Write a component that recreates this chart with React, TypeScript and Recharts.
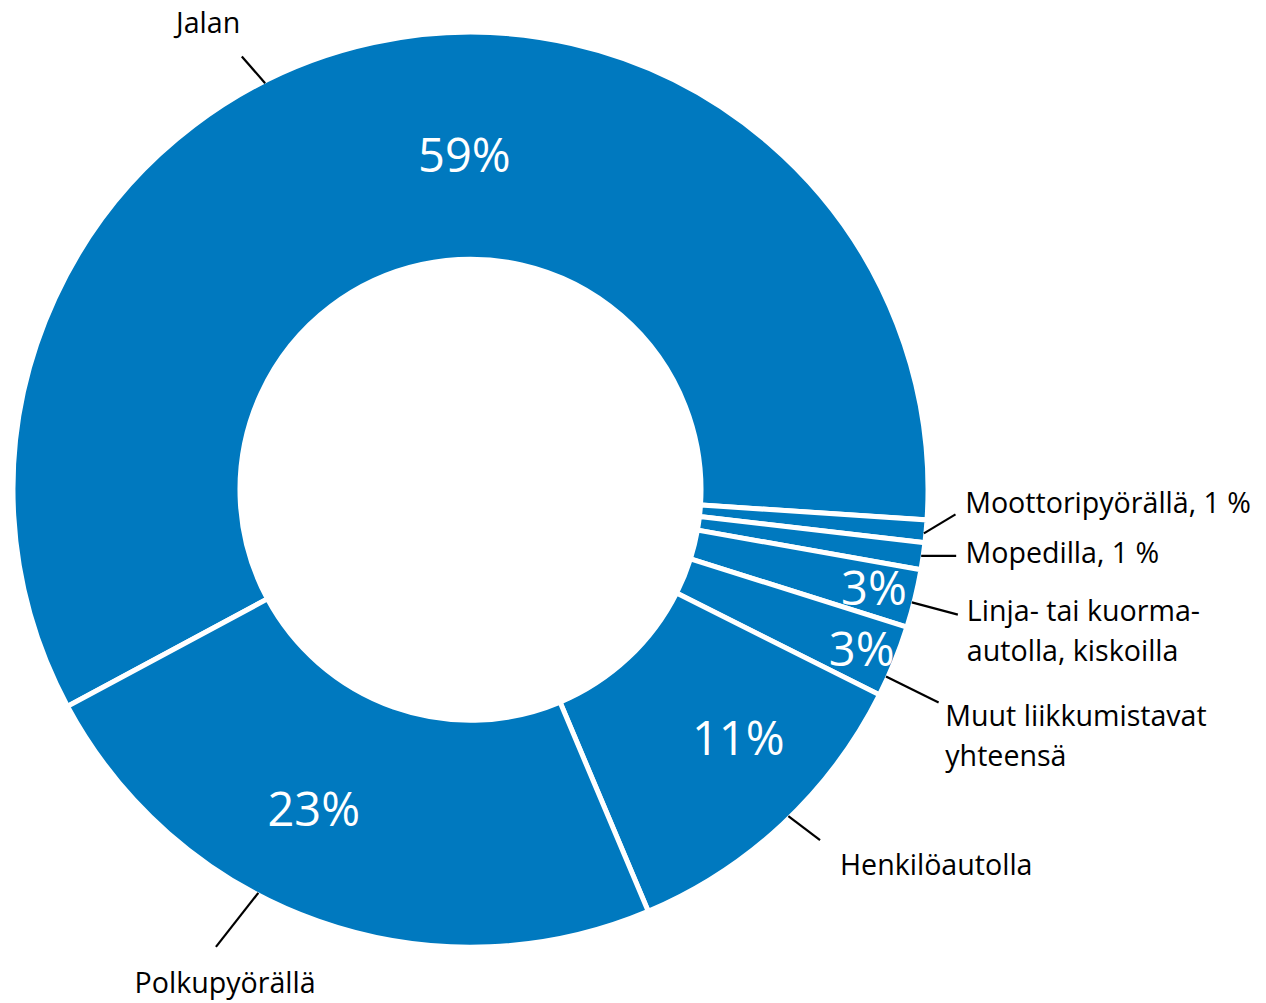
import React from "react";
import { PieChart, Pie, Cell } from "recharts";

const categories = [
  "Jalan",
  "Moottoripyörällä",
  "Mopedilla",
  "Linja- tai kuorma-autolla, kiskoilla",
  "Muut liikkumistavat yhteensä",
  "Henkilöautolla",
  "Polkupyörällä",
];
const shares = [58.9, 0.8, 0.95, 2.05, 2.55, 11.25, 23.5];
const pctLabels = ["59%", "", "", "3%", "3%", "11%", "23%"];
const outerLabelLines = [
  ["Jalan"],
  ["Moottoripyörällä, 1 %"],
  ["Mopedilla, 1 %"],
  ["Linja- tai kuorma-", "autolla, kiskoilla"],
  ["Muut liikkumistavat", "yhteensä"],
  ["Henkilöautolla"],
  ["Polkupyörällä"],
];

const data = categories.map((name, i) => ({ name, value: shares[i] }));

// Layout tweaks for labels (styling, not data)
const pctLayout = [
  { dAngle: -11.2, r: 336 },
  null,
  null,
  { dAngle: 0.2, r: 415 },
  { dAngle: 0, r: 422 },
  { dAngle: 4.15, r: 364.5 },
  { dAngle: -6.8, r: 354.5 },
];
const leaderLayout = [
  { angle: 116.8, dx: -23.3, dy: -26.7, tx: -33.7, ty: -23, anchor: "middle" },
  { angle: -5.5, dx: 31.6, dy: -19, tx: 9.7, ty: -1, anchor: "start" },
  { angle: -8.35, dx: 35, dy: 0, tx: 9.3, ty: 6.7, anchor: "start" },
  { angle: -14.31, dx: 46, dy: 12.3, tx: 9, ty: 6.7, anchor: "start" },
  { angle: -24.19, dx: 52.6, dy: 26, tx: 6.7, ty: 24, anchor: "start" },
  { angle: -45.75, dx: 31.7, dy: 24, tx: 20, ty: 35, anchor: "start" },
  { angle: -117.76, dx: -42.4, dy: 54, tx: 9.2, ty: 46.5, anchor: "middle" },
];

const BLUE = "#0079BF";
const FONT = "'Open Sans', 'Noto Sans', sans-serif";
const RAD = Math.PI / 180;

const polar = (cx: number, cy: number, r: number, a: number) => ({
  x: cx + r * Math.cos(a * RAD),
  y: cy - r * Math.sin(a * RAD),
});

const renderLabel = (props: any) => {
  const { cx, cy, midAngle, outerRadius, index } = props;
  const items: React.ReactNode[] = [];
  const pl = pctLayout[index];
  if (pl && pctLabels[index]) {
    const p = polar(cx, cy, pl.r, midAngle + pl.dAngle);
    items.push(
      <text
        key="pct"
        x={p.x}
        y={p.y}
        textAnchor="middle"
        dominantBaseline="central"
        fill="#ffffff"
        fontSize={47}
        fontFamily={FONT}
      >
        {pctLabels[index]}
      </text>
    );
  }
  const ll = leaderLayout[index];
  const s = polar(cx, cy, outerRadius - 2, ll.angle);
  const e = { x: s.x + ll.dx, y: s.y + ll.dy };
  items.push(
    <line key="ln" x1={s.x} y1={s.y} x2={e.x} y2={e.y} stroke="#000" strokeWidth={2.2} />
  );
  items.push(
    <text
      key="tx"
      x={e.x + ll.tx}
      y={e.y + ll.ty}
      textAnchor={ll.anchor as any}
      fill="#000"
      fontSize={28.6}
      fontFamily={FONT}
    >
      {outerLabelLines[index].map((t, j) => (
        <tspan key={j} x={e.x + ll.tx} dy={j === 0 ? 0 : 40}>
          {t}
        </tspan>
      ))}
    </text>
  );
  return <g key={`lbl-${index}`}>{items}</g>;
};

export default function App() {
  return (
    <div style={{ width: 1258, height: 995 }}>
      <style>{`svg.recharts-surface { overflow: visible; }`}</style>
      <PieChart width={1258} height={995} margin={{ top: 0, right: 0, bottom: 0, left: 0 }}>
        <Pie
          data={data}
          dataKey="value"
          nameKey="name"
          cx={462.5}
          cy={481.75}
          innerRadius={230.5}
          outerRadius={457.5}
          startAngle={208.26}
          endAngle={-151.74}
          stroke="#ffffff"
          strokeWidth={5}
          label={renderLabel}
          labelLine={false}
          isAnimationActive={false}
        >
          {data.map((d) => (
            <Cell key={d.name} fill={BLUE} />
          ))}
        </Pie>
      </PieChart>
    </div>
  );
}
